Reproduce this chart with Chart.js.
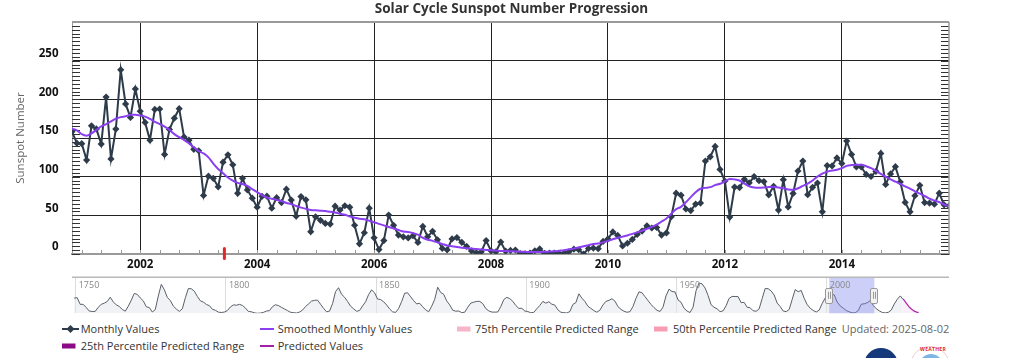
<!DOCTYPE html>
<html>
<head>
<meta charset="utf-8">
<script src="https://cdn.jsdelivr.net/npm/chart.js@4.4.1/dist/chart.umd.min.js"></script>
<style>
html,body{margin:0;padding:0;background:#fff;width:1023px;height:358px;overflow:hidden;font-family:"Open Sans",sans-serif;}
#mainWrap{position:absolute;left:0;top:0;width:1023px;height:275px;}
#navWrap{position:absolute;left:0;top:275px;width:1023px;height:42px;}
.leg{position:absolute;font-size:11px;line-height:14px;color:#333;white-space:nowrap;}
.sym{position:absolute;}
.logo1{position:absolute;left:864px;top:348px;width:34px;height:34px;border-radius:50%;background:#15387a;}
.logo2{position:absolute;left:910px;top:346px;width:40px;height:40px;border-radius:50%;background:#fff;border:1px solid #f3c9cb;box-sizing:border-box;}
.logo2 .in{position:absolute;left:8px;top:7px;width:24px;height:24px;border-radius:50%;background:#7fb4e6;}
.logo2 .t{position:absolute;left:9px;top:-1px;font-size:5px;font-weight:bold;color:#e0282e;letter-spacing:0.3px;}
</style>
</head>
<body>
<div id="mainWrap"><canvas id="main"></canvas></div>
<div id="navWrap"><canvas id="nav"></canvas></div>
<div id="legend"></div>
<div class="logo1"></div>
<div class="logo2"><div class="in"></div><div class="t">WEATHER</div></div>
<script>
// ---------------- DATA ----------------
const chartTitle = "Solar Cycle Sunspot Number Progression";
const yAxisTitle = "Sunspot Number";
const firstMonth = {year: 2000, month: 11};   // first monthly point (Nov 2000)
const lastMonthX = 2015 + 10/12;               // Nov 2015
const xTickYears = [2002, 2004, 2006, 2008, 2010, 2012, 2014];
const yTickValues = [0, 50, 100, 150, 200, 250];

// Monthly values, Nov 2000 .. Nov 2015
const monthlyValues = [
  158.1, 143.3,
  142.6, 121.5, 165.8, 161.7, 142.1, 202.9, 123.0, 161.5, 238.2, 194.1, 176.6, 213.4,
  184.6, 170.2, 147.1, 186.9, 187.5, 128.8, 161.0, 175.6, 187.9, 151.2, 147.2, 135.3,
  133.5, 75.7, 100.7, 97.9, 86.8, 118.7, 128.3, 115.4, 78.5, 97.8, 82.9, 72.2,
  60.6, 74.6, 74.8, 59.2, 72.8, 66.5, 83.8, 69.7, 48.8, 74.2, 70.1, 28.9,
  48.1, 43.5, 39.6, 38.7, 61.9, 56.8, 62.4, 60.5, 37.2, 13.2, 27.5, 59.3,
  20.9, 5.7, 17.3, 50.3, 37.2, 24.5, 22.2, 20.8, 23.7, 14.9, 35.7, 22.3,
  29.3, 18.4, 7.2, 5.4, 19.5, 21.3, 15.1, 9.8, 4.0, 1.5, 2.8, 17.3,
  4.1, 2.9, 15.5, 3.6, 4.6, 5.2, 0.6, 0.3, 1.2, 4.2, 6.6, 1.0,
  1.3, 1.2, 0.6, 1.2, 2.9, 6.3, 5.5, 0.0, 7.1, 7.7, 6.9, 16.3,
  19.5, 28.5, 24.0, 10.4, 13.9, 18.8, 25.2, 29.6, 36.4, 33.6, 34.4, 24.5,
  27.3, 48.3, 78.6, 76.1, 58.2, 56.1, 64.5, 65.8, 120.1, 125.7, 139.1, 109.3,
  94.4, 47.8, 86.6, 85.9, 96.5, 92.0, 100.1, 94.8, 93.7, 76.5, 87.6, 56.8,
  96.1, 60.9, 78.3, 107.3, 120.2, 76.7, 86.2, 91.8, 54.5, 114.4, 113.9, 124.2,
  117.0, 146.1, 128.7, 112.5, 112.5, 102.9, 100.2, 106.9, 130.0, 90.0, 103.6, 112.9,
  93.0, 66.7, 54.5, 75.3, 88.8, 66.5, 65.8, 64.4, 78.6, 63.6, 62.2
];

// Smoothed monthly values, Nov 2000 .. Nov 2015
const smoothedValues = [
  162, 160,
  155, 153, 156, 160.5, 165, 168, 171.6, 175, 177, 178, 180, 180,
  179, 177.7, 174.7, 171, 168, 164.8, 160.5, 155, 151, 147.6, 143, 138,
  133, 130, 125, 117, 110, 104.5, 99, 95, 92, 90.5, 88, 84,
  80, 76, 73, 71.5, 70, 68.5, 66, 64.5, 62, 60, 58.5, 57,
  56.5, 56, 55.5, 54.5, 53.8, 52, 50.8, 48.5, 47, 45.5, 45, 43,
  41, 39, 37, 35, 33, 31, 29, 28.5, 27, 25, 21, 18.5,
  17, 15, 13, 11, 10, 9, 8.2, 7.5, 7, 6.5, 5.8, 5.3,
  4.8, 4.4, 4, 3.8, 3.5, 3.3, 3, 2.8, 2.6, 2.6, 2.6, 2.8,
  3.2, 3.6, 4.2, 4.8, 6, 7, 8.5, 10, 11.5, 13, 13.5, 15,
  17, 19, 21, 22.5, 24, 26, 28, 30, 32.5, 35, 38, 42,
  46, 52, 58, 61, 67, 73.5, 80, 84.4, 85.5, 86.5, 89, 90.8,
  94, 97, 96.5, 95, 91, 87.4, 86, 85.7, 86, 86.5, 87, 86,
  85, 83.5, 83, 85, 88, 91, 95, 100, 104, 106.5, 108, 109,
  111, 114, 115, 115.3, 115.3, 113.5, 111, 107.5, 103.7, 100, 96.4, 93.5,
  90.8, 87.5, 84.4, 81, 78, 75, 71.5, 69, 67, 64, 61.5
];

// Navigator: yearly mean sunspot numbers 1749 .. 2025
const navStartYear = 1749;
const navYearly = [
  134.7, 139.0, 79.5, 79.7, 51.2, 20.3, 16.0, 17.0, 54.0, 79.3, 90.0,
  104.8, 143.2, 102.0, 75.2, 60.7, 34.8, 19.0, 63.0, 116.3, 176.8,
  168.0, 136.0, 110.8, 58.0, 51.0, 11.7, 33.0, 154.2, 257.3, 209.8,
  141.3, 113.5, 64.2, 38.0, 17.0, 40.2, 138.2, 220.0, 218.2, 196.8,
  149.8, 111.0, 100.0, 78.2, 68.3, 35.5, 26.7, 10.7, 6.8, 11.3,
  24.2, 56.7, 75.0, 71.8, 79.2, 70.3, 46.8, 16.8, 13.5, 4.2,
  0.0, 2.3, 8.3, 20.3, 23.2, 59.0, 76.3, 68.3, 52.9, 38.5,
  24.2, 9.2, 6.3, 2.2, 11.4, 28.2, 59.9, 83.0, 108.5, 115.2,
  117.4, 80.8, 44.3, 13.4, 19.5, 85.8, 192.7, 227.3, 168.7, 143.0,
  105.5, 63.3, 40.3, 18.1, 25.1, 65.8, 102.7, 166.3, 208.3, 182.5,
  126.3, 122.0, 102.7, 74.1, 39.0, 12.7, 8.2, 43.4, 104.4, 178.3,
  182.2, 146.6, 112.1, 83.5, 89.2, 57.8, 30.7, 13.9, 62.8, 123.6,
  232.0, 185.3, 169.2, 110.1, 74.5, 28.3, 18.9, 20.7, 5.7, 10.0,
  53.7, 90.5, 99.0, 106.1, 105.8, 86.3, 42.4, 21.8, 11.2, 10.4,
  11.8, 59.5, 121.7, 142.0, 130.0, 106.6, 69.4, 43.8, 44.4, 20.2,
  15.7, 4.6, 8.5, 40.8, 70.1, 105.5, 90.1, 102.8, 80.9, 73.2,
  30.9, 9.5, 6.0, 2.4, 16.1, 79.0, 95.0, 173.6, 134.6, 105.7,
  62.7, 43.5, 23.7, 9.7, 27.9, 74.0, 106.5, 114.7, 129.7, 108.2,
  59.4, 35.1, 18.6, 9.2, 14.6, 60.2, 132.8, 190.6, 182.6, 148.0,
  113.0, 79.2, 50.8, 27.1, 16.1, 55.3, 154.3, 214.7, 193.0, 190.7,
  118.9, 98.3, 45.0, 20.1, 6.6, 54.2, 200.7, 269.3, 261.7, 225.1,
  159.0, 76.4, 53.4, 39.9, 15.0, 22.0, 66.8, 132.9, 150.0, 149.4,
  148.0, 94.4, 97.6, 54.1, 49.2, 22.5, 18.4, 39.3, 131.0, 220.1,
  218.9, 198.9, 162.4, 91.0, 60.5, 20.6, 14.8, 33.9, 123.0, 211.1,
  191.8, 203.3, 133.0, 76.1, 44.9, 25.1, 11.6, 28.9, 88.3, 136.3,
  173.9, 170.4, 163.6, 99.3, 65.3, 45.8, 24.7, 12.6, 4.2, 4.8,
  24.9, 80.8, 84.5, 94.0, 113.3, 69.8, 39.8, 21.7, 7.0, 3.6,
  8.8, 29.6, 83.2, 125.5, 154.7, 126.0
];
// Predicted values (navigator), decimal year / value
const predictedX = [2025.3, 2025.5, 2026.0, 2026.5, 2027.0, 2027.5, 2028.0, 2028.5, 2029.0, 2029.5, 2030.0, 2030.6];
const predictedY = [126, 124, 108, 90, 72, 55, 42, 31, 22, 15, 10, 6];
const navTickYears = [1750, 1800, 1850, 1900, 1950, 2000];
const redMarkerYear = 2003.44;
const updatedText = "Updated: 2025-08-02";

// ---------------- BUILD ----------------
const x0 = firstMonth.year + (firstMonth.month - 1) / 12;
const monthlyPts = monthlyValues.map((v, i) => ({x: x0 + i / 12, y: v}));
const smoothedPts = smoothedValues.map((v, i) => ({x: x0 + i / 12, y: v}));
const navPts = navYearly.map((v, i) => ({x: navStartYear + i + 0.5, y: v}));
navPts[navPts.length - 1].x = 2025.3;
const predPts = predictedX.map((x, i) => ({x: x, y: predictedY[i]}));

const DARK = '#2e3b4a';
const PURPLE = '#8a3ff0';
const FONT = '"Open Sans", sans-serif';

const mainDecor = {
  id: 'mainDecor',
  beforeDatasetsDraw(chart) {
    const {ctx, chartArea: a, scales: {x, y}} = chart;
    ctx.save();
    ctx.strokeStyle = '#333';
    ctx.lineWidth = 1;
    ctx.beginPath();
    for (let v = 0; v < 300; v += 5) {
      const py = Math.round(y.getPixelForValue(v)) + 0.5;
      ctx.moveTo(a.left, py); ctx.lineTo(a.left + 8, py);
      ctx.moveTo(a.right - 8, py); ctx.lineTo(a.right, py);
    }
    ctx.stroke();
    ctx.strokeStyle = '#999';
    ctx.beginPath();
    for (let k = 0; ; k++) {
      const v = 2001 + k / 3;
      if (v > x.max) break;
      const px = Math.round(x.getPixelForValue(v)) + 0.5;
      ctx.moveTo(px, a.bottom); ctx.lineTo(px, a.bottom - 4);
    }
    ctx.stroke();
    ctx.restore();
  },
  afterDraw(chart) {
    const {ctx, chartArea: a, scales: {x}} = chart;
    ctx.save();
    ctx.strokeStyle = '#9a9a9a';
    ctx.lineWidth = 2;
    ctx.beginPath();
    ctx.moveTo(a.left, a.top); ctx.lineTo(a.right, a.top);
    ctx.stroke();
    ctx.lineWidth = 1.5;
    ctx.beginPath();
    ctx.moveTo(a.right, a.top); ctx.lineTo(a.right, a.bottom);
    ctx.stroke();
    const rx = x.getPixelForValue(redMarkerYear);
    ctx.fillStyle = '#e3262b';
    ctx.beginPath();
    ctx.roundRect(rx - 1.5, a.bottom - 7, 3, 13, 1.5);
    ctx.fill();
    ctx.restore();
  }
};

new Chart(document.getElementById('main'), {
  type: 'line',
  data: {
    datasets: [
      {label: 'Monthly Values', data: monthlyPts, order: 2, borderColor: DARK, backgroundColor: DARK,
       borderWidth: 2, pointStyle: 'rectRot', pointRadius: 3.6, pointBorderWidth: 0, pointBackgroundColor: DARK, tension: 0},
      {label: 'Smoothed Monthly Values', data: smoothedPts, order: 1, borderColor: PURPLE,
       borderWidth: 2, pointRadius: 0, cubicInterpolationMode: 'monotone'}
    ]
  },
  options: {
    responsive: true, maintainAspectRatio: false, animation: false, devicePixelRatio: 1,
    layout: {padding: {left: 0, right: 0, top: 0, bottom: 0}},
    plugins: {
      legend: {display: false}, tooltip: {enabled: false},
      title: {display: true, text: chartTitle, color: '#333', font: {family: FONT, size: 13.5, weight: 'bold'},
              padding: {top: 1, bottom: 4.8}}
    },
    scales: {
      x: {
        type: 'linear', min: x0, max: lastMonthX,
        afterBuildTicks: s => { s.ticks = xTickYears.map(v => ({value: v})); },
        afterFit: s => { s.height = 21; },
        ticks: {autoSkip: false, maxRotation: 0, color: '#111', padding: 4,
                font: {family: FONT, size: 11.5, weight: 'bold'}, callback: v => String(v)},
        grid: {color: '#222', lineWidth: 1, drawTicks: false},
        border: {color: '#9a9a9a', width: 2}
      },
      y: {
        type: 'linear', min: 0, max: 300,
        afterBuildTicks: s => { s.ticks = yTickValues.map(v => ({value: v})); },
        afterFit: s => { s.width = 72; },
        ticks: {color: '#111', padding: 13.5, labelOffset: -7,
                font: {family: FONT, size: 11.5, weight: 'bold'}},
        grid: {color: '#222', lineWidth: 1, drawTicks: false},
        border: {color: '#9a9a9a', width: 1},
        title: {display: true, text: yAxisTitle, color: '#666', font: {family: FONT, size: 11.5},
                padding: {top: 14, bottom: 0}}
      },
      yRight: {
        type: 'linear', position: 'right', min: 0, max: 300,
        afterFit: s => { s.width = 74; },
        ticks: {display: false},
        grid: {display: false, drawTicks: false},
        border: {display: false}
      }
    }
  },
  plugins: [mainDecor]
});

const navDecor = {
  id: 'navDecor',
  afterDatasetsDraw(chart) {
    const {ctx, chartArea: a, scales: {x}} = chart;
    ctx.save();
    const l = x.getPixelForValue(x0), r = x.getPixelForValue(lastMonthX);
    ctx.fillStyle = 'rgba(120,130,235,0.38)';
    ctx.fillRect(l, a.top, r - l, a.bottom - a.top);
    ctx.strokeStyle = '#b8b8b8';
    ctx.lineWidth = 1.5;
    ctx.beginPath();
    ctx.moveTo(a.left, a.top); ctx.lineTo(a.right, a.top);
    ctx.stroke();
    ctx.fillStyle = '#888';
    ctx.font = '9px ' + FONT;
    ctx.textBaseline = 'middle';
    navTickYears.forEach(v => {
      ctx.fillText(String(v), x.getPixelForValue(v) + 3, a.top + 8.3);
    });
    const cy = (a.top + a.bottom) / 2;
    [l, r].forEach(px => {
      ctx.fillStyle = '#f2f2f2';
      ctx.strokeStyle = '#999';
      ctx.lineWidth = 1;
      ctx.beginPath();
      ctx.roundRect(Math.round(px - 4) + 0.5, Math.round(cy - 7.5) + 0.5, 7, 15, 1.5);
      ctx.fill(); ctx.stroke();
      ctx.beginPath();
      ctx.moveTo(Math.round(px - 1) + 0.5, cy - 3.5); ctx.lineTo(Math.round(px - 1) + 0.5, cy + 3.5);
      ctx.moveTo(Math.round(px + 1) + 0.5, cy - 3.5); ctx.lineTo(Math.round(px + 1) + 0.5, cy + 3.5);
      ctx.stroke();
    });
    ctx.restore();
  }
};

new Chart(document.getElementById('nav'), {
  type: 'line',
  data: {
    datasets: [
      {data: navPts, borderColor: '#5a6068', borderWidth: 1, backgroundColor: 'rgba(225,229,236,0.5)',
       fill: 'origin', pointRadius: 0, tension: 0},
      {data: predPts, borderColor: '#b02cb0', borderWidth: 1.3, backgroundColor: 'rgba(235,190,235,0.25)',
       fill: 'origin', pointRadius: 0, tension: 0.3}
    ]
  },
  options: {
    responsive: true, maintainAspectRatio: false, animation: false, devicePixelRatio: 1,
    layout: {padding: {left: 72, right: 74, top: 2.3, bottom: 3.7}},
    plugins: {legend: {display: false}, tooltip: {enabled: false}},
    scales: {
      x: {
        type: 'linear', min: 1748.77, max: 2040.7,
        afterBuildTicks: s => { s.ticks = navTickYears.map(v => ({value: v})); },
        afterFit: s => { s.height = 0; },
        ticks: {display: false},
        grid: {color: '#dcdcdc', lineWidth: 1, drawTicks: false},
        border: {display: false}
      },
      y: {display: false, min: 0, max: 320}
    }
  },
  plugins: [navDecor]
});

// ---------------- LEGEND (HTML) ----------------
const legendItems = [
  {text: 'Monthly Values', kind: 'marker', color: DARK, sx: 62, tx: 80.7, row: 0},
  {text: 'Smoothed Monthly Values', kind: 'line', color: PURPLE, sx: 260, tx: 277.7, row: 0},
  {text: '75th Percentile Predicted Range', kind: 'box', color: '#f4b6c8', sx: 456.7, tx: 475, row: 0},
  {text: '50th Percentile Predicted Range', kind: 'box', color: '#f79cb2', sx: 654, tx: 673, row: 0},
  {text: '25th Percentile Predicted Range', kind: 'box', color: '#8c0a86', sx: 62, tx: 80.7, row: 1},
  {text: 'Predicted Values', kind: 'line', color: '#a41ea6', sx: 260, tx: 277.7, row: 1}
];
const rowCenters = [328.5, 345.8];
const leg = document.getElementById('legend');
legendItems.forEach(it => {
  const cy = rowCenters[it.row];
  let svg;
  if (it.kind === 'marker') {
    svg = `<svg class="sym" style="left:${it.sx}px;top:${cy - 5}px" width="17" height="10">
      <line x1="0" y1="5" x2="17" y2="5" stroke="${it.color}" stroke-width="2"/>
      <path d="M8.5 1 L12.5 5 L8.5 9 L4.5 5Z" fill="${it.color}"/></svg>`;
  } else if (it.kind === 'line') {
    svg = `<svg class="sym" style="left:${it.sx}px;top:${cy - 5}px" width="14" height="10">
      <line x1="0" y1="5" x2="14" y2="5" stroke="${it.color}" stroke-width="2"/></svg>`;
  } else {
    svg = `<svg class="sym" style="left:${it.sx}px;top:${cy - 3}px" width="14" height="6">
      <rect x="0" y="0.5" width="13.5" height="5" fill="${it.color}"/></svg>`;
  }
  leg.insertAdjacentHTML('beforeend', svg +
    `<span class="leg" style="left:${it.tx}px;top:${cy - 7}px">${it.text}</span>`);
});
leg.insertAdjacentHTML('beforeend',
  `<span class="leg" style="left:841.7px;top:${rowCenters[0] - 7}px;color:#666">${updatedText}</span>`);
</script>
</body>
</html>
